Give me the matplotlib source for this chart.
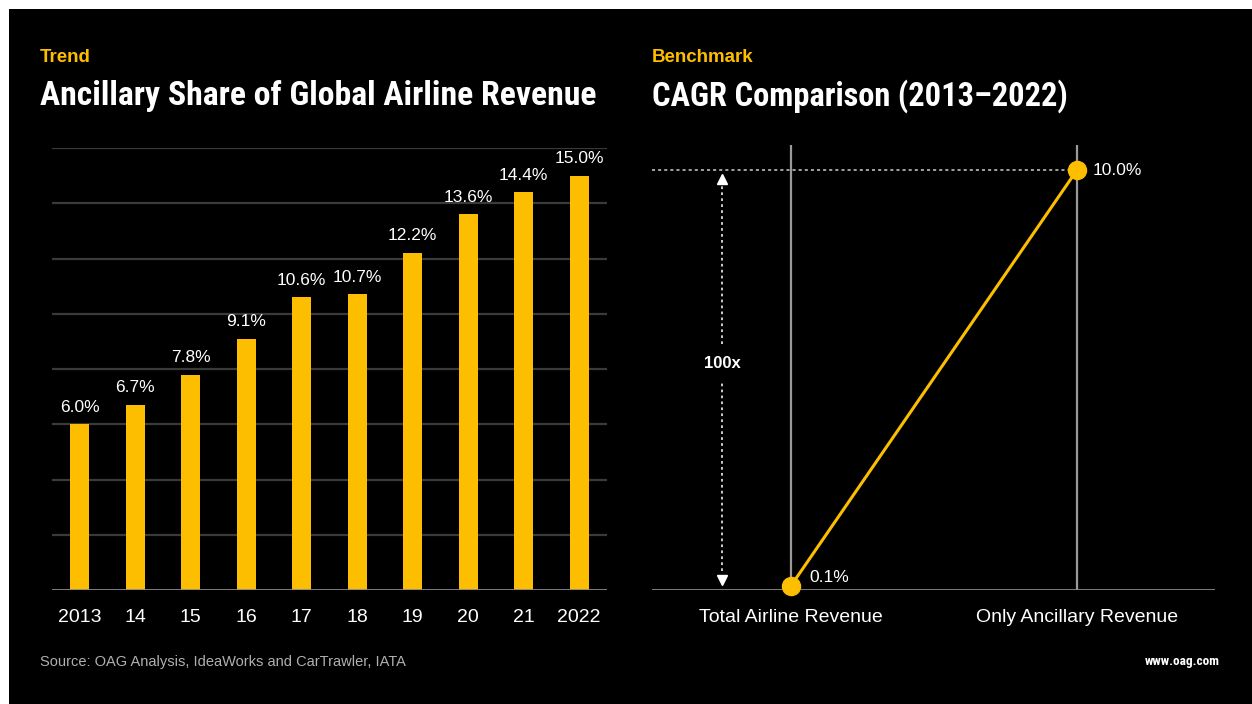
import matplotlib
matplotlib.use('Agg')
import matplotlib.pyplot as plt
from matplotlib.patches import Rectangle

# ancillary share of airline revenue, per year
years = ['2013', '14', '15', '16', '17', '18', '19', '20', '21', '2022']
share = [6.0, 6.7, 7.8, 9.1, 10.6, 10.7, 12.2, 13.6, 14.4, 15.0]

# CAGR 2013-2022
cagr_labels = ['Total Airline Revenue', 'Only Ancillary Revenue']
cagr = [0.1, 10.0]

YELLOW = '#FDBE00'
BG = '#000000'
GRID = '#3a3a3a'
BASE = '#8a8a8a'
TITLE_FONT = ['Roboto Condensed', 'DejaVu Sans Condensed', 'DejaVu Sans']
BODY_FONT = ['Liberation Sans', 'DejaVu Sans']

fig = plt.figure(figsize=(12.52, 7.04), dpi=100, facecolor='white')
fig.patches.append(Rectangle((9 / 1252, 0), 1, 1 - 9 / 704, transform=fig.transFigure,
                             facecolor=BG, edgecolor='none', zorder=-10))

# --- left: bars ---
ax1 = fig.add_axes([52 / 1252, 1 - 590 / 704, 555 / 1252, 442 / 704])
ax1.set_facecolor('none')
x = range(len(years))
ax1.bar(x, share, width=0.34, color=YELLOW, zorder=3)
for xi, v in zip(x, share):
    ax1.text(xi, v + 0.35, f'{v:.1f}%', ha='center', va='bottom', color='white',
             fontsize=12.5, family=BODY_FONT)
for g in range(2, 17, 2):
    ax1.axhline(g, color=GRID, lw=1.6, zorder=1)
ax1.axhline(0, color=BASE, lw=2, zorder=4)
ax1.set_xlim(-0.5, 9.5)
ax1.set_ylim(0, 16)
ax1.set_xticks(list(x))
ax1.set_xticklabels(years, color='white', fontsize=14, family=BODY_FONT)
ax1.tick_params(axis='x', length=0, pad=14)
ax1.set_yticks([])
for s in ax1.spines.values():
    s.set_visible(False)

# --- right: CAGR slope ---
ax2 = fig.add_axes([652 / 1252, 1 - 590 / 704, 563 / 1252, 445 / 704])
ax2.set_facecolor('none')
ax2.set_xlim(-0.486, 1.483)
ax2.set_ylim(0, 10.6)
for xi in range(len(cagr)):
    ax2.axvline(xi, color='#9a9a9a', lw=1.6, zorder=1)
ax2.axhline(0, color=BASE, lw=2, zorder=2)
ax2.plot([-0.486, 1], [cagr[1], cagr[1]], color='#cfcfcf', lw=1.1, ls=(0, (2, 2)), zorder=2)

# 100x arrow, dotted shaft with solid heads
ax_x = -0.241
mid = 5.4
ax2.plot([ax_x, ax_x], [0.45, mid - 0.45], color='#dddddd', lw=1.3, ls=(0, (1.5, 1.8)))
ax2.plot([ax_x, ax_x], [mid + 0.45, cagr[1] - 0.35], color='#dddddd', lw=1.3, ls=(0, (1.5, 1.8)))
ax2.plot(ax_x, cagr[1] - 0.2, marker='^', color='white', markersize=7, ls='none')
ax2.plot(ax_x, 0.25, marker='v', color='white', markersize=7, ls='none')
ax2.text(ax_x, mid, '100x', ha='center', va='center', color='white', fontsize=12,
         fontweight='bold', family=BODY_FONT)

ax2.plot(range(len(cagr)), cagr, color=YELLOW, lw=2.2, marker='o', markersize=13,
         zorder=5, clip_on=False)
ax2.text(0.065, 0.3, f'{cagr[0]:.1f}%', ha='left', va='center', color='white',
         fontsize=12.5, family=BODY_FONT)
ax2.text(1.055, cagr[1], f'{cagr[1]:.1f}%', ha='left', va='center', color='white',
         fontsize=12.5, family=BODY_FONT)
ax2.set_xticks(range(len(cagr)))
ax2.set_xticklabels(cagr_labels, color='white', fontsize=14, family=BODY_FONT)
ax2.tick_params(axis='x', length=0, pad=14)
ax2.set_yticks([])
for s in ax2.spines.values():
    s.set_visible(False)

# --- titles and footer ---
fig.text(40 / 1252, 1 - 58 / 704, 'Trend', color=YELLOW, fontsize=13.5, fontweight='bold',
         family=BODY_FONT, va='center')
fig.text(652 / 1252, 1 - 58 / 704, 'Benchmark', color=YELLOW, fontsize=13.5,
         fontweight='bold', family=BODY_FONT, va='center')
t1 = fig.text(40 / 1252, 1 - 96 / 704, 'Ancillary Share of Global Airline Revenue',
              color='white', fontsize=26, fontweight='bold', family=TITLE_FONT,
              fontstretch='condensed', va='center')
t2 = fig.text(652 / 1252, 1 - 96 / 704, 'CAGR Comparison (2013–2022)', color='white',
              fontsize=26, fontweight='bold', family=TITLE_FONT,
              fontstretch='condensed', va='center')
fig.text(40 / 1252, 1 - 662 / 704, 'Source: OAG Analysis, IdeaWorks and CarTrawler, IATA',
         color='#b0b0b0', fontsize=10.5, family=BODY_FONT, va='center')
fig.text(1220 / 1252, 1 - 662 / 704, 'www.oag.com', color='white', fontsize=9.5,
         fontweight='bold', family=TITLE_FONT, va='center', ha='right')

# shrink the big titles to their column widths
renderer = fig.canvas.get_renderer()
for t, w in ((t1, 557), (t2, 418)):
    cur = t.get_window_extent(renderer).width
    if cur > w:
        t.set_fontsize(t.get_fontsize() * w / cur)

fig.savefig('out.png', dpi=100, facecolor=fig.get_facecolor())
